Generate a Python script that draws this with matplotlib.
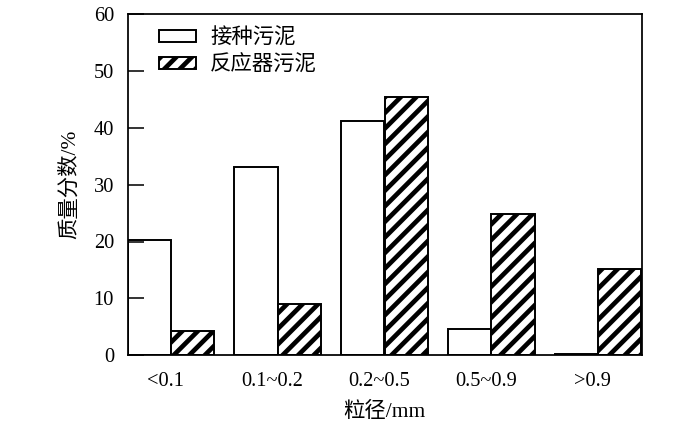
import matplotlib
matplotlib.use("Agg")
import matplotlib.pyplot as plt
import numpy as np

plt.rcParams['font.family'] = ['Liberation Serif', 'Noto Sans CJK SC']
plt.rcParams['hatch.linewidth'] = 2.4
plt.rcParams['hatch.color'] = 'black'

categories = ['<0.1', '0.1~0.2', '0.2~0.5', '0.5~0.9', '>0.9']
seed_sludge = [20.2, 33.2, 41.3, 4.5, 0.1]
reactor_sludge = [4.2, 8.9, 45.4, 24.9, 15.2]
series_names = ['接种污泥', '反应器污泥']
yticks = [0, 10, 20, 30, 40, 50, 60]

DPI = 140
fig = plt.figure(figsize=(700 / DPI, 428 / DPI), dpi=DPI)
ax = fig.add_axes([127.5 / 700, 1 - 355 / 428, (641.5 - 127.5) / 700, (355 - 14.5) / 428])

x = np.arange(len(categories))
w = 0.405
ax.bar(x - w / 2, seed_sludge, width=w, facecolor='white', edgecolor='black',
       linewidth=1.0, label=series_names[0])
ax.bar(x + w / 2, reactor_sludge, width=w, facecolor='white', edgecolor='black',
       linewidth=1.0, hatch='///', label=series_names[1])

ax.set_xlim(-w, len(categories) - 1 + w)
ax.set_ylim(0, 60)
ax.set_yticks(yticks)
ax.set_xticks(x - 0.05)
ax.set_xticklabels(categories)
ax.tick_params(axis='y', direction='in', length=8, width=0.8, labelsize=10.5, pad=7)
ax.tick_params(axis='x', length=0, labelsize=10.5, pad=9)
for s in ax.spines.values():
    s.set_linewidth(0.9)

ax.set_ylabel('质量分数/%', fontsize=11, labelpad=7)
ax.set_xlabel('粒径/mm', fontsize=11, labelpad=5.5)

leg = ax.legend(loc='upper left', frameon=False, fontsize=11,
                handlelength=1.73, handleheight=0.47, handletextpad=0.65,
                labelspacing=0.32, borderaxespad=0.25, bbox_to_anchor=(0.035, 1.0))

fig.savefig('out.png', dpi=DPI)
